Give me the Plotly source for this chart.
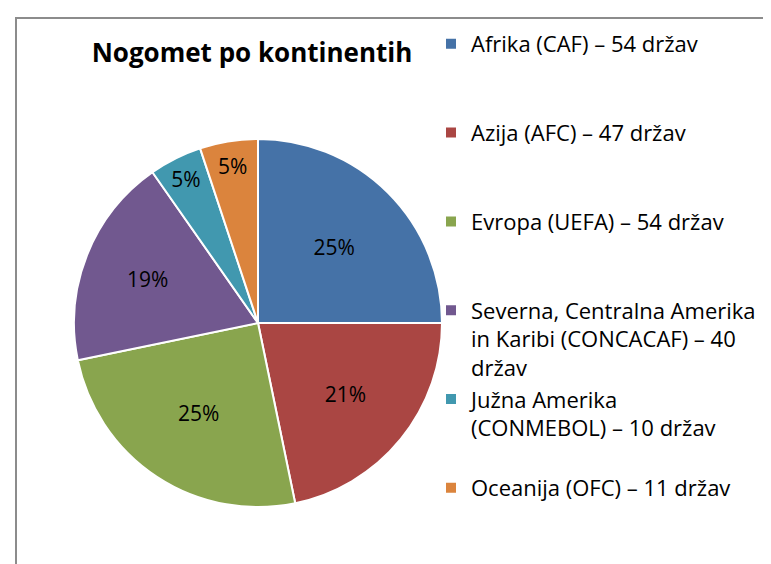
# Pie chart - football confederations by continent
import plotly.graph_objects as go

labels = ["Afrika (CAF) – 54 držav",
          "Azija (AFC) – 47 držav",
          "Evropa (UEFA) – 54 držav",
          "Severna, Centralna Amerika<br>in Karibi (CONCACAF) – 40<br>držav",
          "Južna Amerika<br>(CONMEBOL) – 10 držav",
          "Oceanija (OFC) – 11 držav"]
values = [54, 47, 54, 40, 10, 11]
pct_text = ["25%", "21%", "25%", "19%", "5%", "5%"]
colors = ["#4572A7", "#AA4643", "#89A54E", "#71588F", "#4198AF", "#DB843D"]

FONT = "'Open Sans', Lato, sans-serif"

# every legend entry takes three lines, like Excel spreads them out
legend_labels = []
for lab in labels:
    pad = 2 - lab.count("<br>")
    legend_labels.append(lab + "<br>\u00a0" * pad)

pie = go.Pie(labels=legend_labels,
             values=values,
             text=pct_text,
             textinfo="text",
             textposition="inside",
             insidetextorientation="horizontal",
             textfont=dict(family=FONT, size=21, color="black"),
             sort=False,
             direction="clockwise",
             rotation=0,
             marker=dict(colors=colors, line=dict(color="white", width=2)),
             domain=dict(x=[66/771, 434/771], y=[1 - 499/564, 1 - 131/564]),
             hoverinfo="label+value+percent")

fig = go.Figure(data=[pie])

fig.update_layout(
    width=771, height=564,
    margin=dict(l=0, r=0, t=0, b=0),
    paper_bgcolor="white",
    font=dict(family=FONT, size=22, color="black"),
    title=dict(text="<b>Nogomet po kontinentih</b>",
               x=244/771, xanchor="center",
               y=1 - 45/564, yanchor="middle",
               font=dict(family=FONT, size=26, color="black")),
    legend=dict(x=423/771, xanchor="left",
                y=1 - 15/564, yanchor="top",
                valign="top",
                font=dict(family=FONT, size=22, color="black"),
                bgcolor="rgba(0,0,0,0)"),
    shapes=[dict(type="rect", xref="paper", yref="paper",
                 x0=8/771, x1=1.2, y0=-0.2, y1=1 - 10/564,
                 line=dict(color="#8c8c8c", width=2))],
)

fig.write_html("out.html")
